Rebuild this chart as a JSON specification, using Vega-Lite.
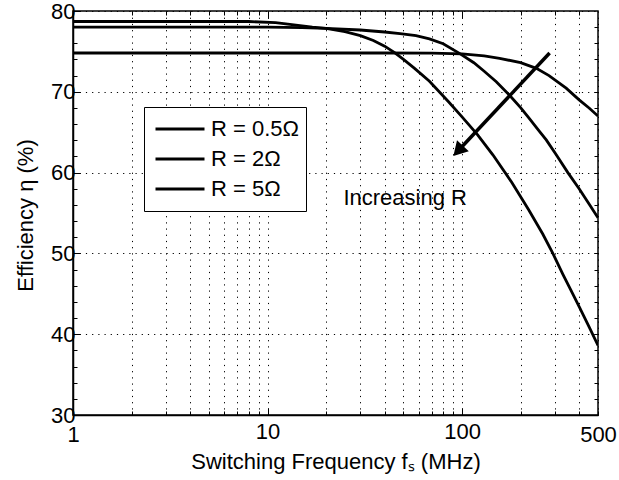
{
  "$schema": "https://vega.github.io/schema/vega-lite/v6.json",
  "autosize": {"type": "none"},
  "width": 525,
  "height": 404,
  "padding": {"left": 73, "top": 11, "right": 21, "bottom": 65},
  "background": "white",
  "config": {
    "font": "Liberation Sans",
    "view": {"stroke": "black", "strokeWidth": 1.5},
    "axis": {
      "domainColor": "black",
      "domainWidth": 1.5,
      "tickColor": "black",
      "tickWidth": 1,
      "labelColor": "black",
      "titleColor": "black",
      "labelFont": "Liberation Sans",
      "titleFont": "Liberation Sans",
      "labelFontSize": 22,
      "titleFontSize": 22,
      "titleFontWeight": "normal",
      "gridColor": "black",
      "gridDash": [1.2, 5],
      "gridWidth": 1,
      "labelOverlap": false,
      "labelFlush": false
    }
  },
  "resolve": {"axis": {"x": "independent", "y": "independent"}},
  "datasets": {
    "curves": [
      {"R": "R = 0.5Ω", "f": 1, "eta": 74.8},
      {"R": "R = 0.5Ω", "f": 10, "eta": 74.8},
      {"R": "R = 0.5Ω", "f": 40, "eta": 74.8},
      {"R": "R = 0.5Ω", "f": 70, "eta": 74.78},
      {"R": "R = 0.5Ω", "f": 100, "eta": 74.7},
      {"R": "R = 0.5Ω", "f": 130, "eta": 74.45},
      {"R": "R = 0.5Ω", "f": 156, "eta": 74.15},
      {"R": "R = 0.5Ω", "f": 200, "eta": 73.6},
      {"R": "R = 0.5Ω", "f": 241, "eta": 72.9},
      {"R": "R = 0.5Ω", "f": 280, "eta": 72.0},
      {"R": "R = 0.5Ω", "f": 343, "eta": 70.45},
      {"R": "R = 0.5Ω", "f": 400, "eta": 69.0},
      {"R": "R = 0.5Ω", "f": 450, "eta": 68.0},
      {"R": "R = 0.5Ω", "f": 500, "eta": 67.0},
      {"R": "R = 2Ω", "f": 1, "eta": 78.0},
      {"R": "R = 2Ω", "f": 10, "eta": 78.0},
      {"R": "R = 2Ω", "f": 15, "eta": 77.95},
      {"R": "R = 2Ω", "f": 20, "eta": 77.85},
      {"R": "R = 2Ω", "f": 30, "eta": 77.65},
      {"R": "R = 2Ω", "f": 40, "eta": 77.4},
      {"R": "R = 2Ω", "f": 48, "eta": 77.2},
      {"R": "R = 2Ω", "f": 58, "eta": 76.95},
      {"R": "R = 2Ω", "f": 68, "eta": 76.55},
      {"R": "R = 2Ω", "f": 80, "eta": 75.95},
      {"R": "R = 2Ω", "f": 97, "eta": 74.75},
      {"R": "R = 2Ω", "f": 115, "eta": 73.6},
      {"R": "R = 2Ω", "f": 130, "eta": 72.55},
      {"R": "R = 2Ω", "f": 150, "eta": 71.25},
      {"R": "R = 2Ω", "f": 175, "eta": 69.6},
      {"R": "R = 2Ω", "f": 200, "eta": 68.05},
      {"R": "R = 2Ω", "f": 220, "eta": 66.8},
      {"R": "R = 2Ω", "f": 250, "eta": 65.1},
      {"R": "R = 2Ω", "f": 271, "eta": 64.05},
      {"R": "R = 2Ω", "f": 305, "eta": 62.2},
      {"R": "R = 2Ω", "f": 350, "eta": 60.0},
      {"R": "R = 2Ω", "f": 400, "eta": 58.0},
      {"R": "R = 2Ω", "f": 450, "eta": 56.1},
      {"R": "R = 2Ω", "f": 500, "eta": 54.4},
      {"R": "R = 5Ω", "f": 1, "eta": 78.7},
      {"R": "R = 5Ω", "f": 8, "eta": 78.7},
      {"R": "R = 5Ω", "f": 11, "eta": 78.55},
      {"R": "R = 5Ω", "f": 14, "eta": 78.25},
      {"R": "R = 5Ω", "f": 17, "eta": 78.0},
      {"R": "R = 5Ω", "f": 20, "eta": 77.85},
      {"R": "R = 5Ω", "f": 25, "eta": 77.45},
      {"R": "R = 5Ω", "f": 30, "eta": 76.95},
      {"R": "R = 5Ω", "f": 35, "eta": 76.35},
      {"R": "R = 5Ω", "f": 40, "eta": 75.65},
      {"R": "R = 5Ω", "f": 45, "eta": 74.85},
      {"R": "R = 5Ω", "f": 50, "eta": 74.0},
      {"R": "R = 5Ω", "f": 57, "eta": 72.9},
      {"R": "R = 5Ω", "f": 68, "eta": 71.3},
      {"R": "R = 5Ω", "f": 85, "eta": 68.8},
      {"R": "R = 5Ω", "f": 100, "eta": 66.9},
      {"R": "R = 5Ω", "f": 120, "eta": 64.7},
      {"R": "R = 5Ω", "f": 144, "eta": 62.2},
      {"R": "R = 5Ω", "f": 180, "eta": 58.8},
      {"R": "R = 5Ω", "f": 220, "eta": 55.4},
      {"R": "R = 5Ω", "f": 260, "eta": 52.4},
      {"R": "R = 5Ω", "f": 293, "eta": 50.0},
      {"R": "R = 5Ω", "f": 330, "eta": 47.4},
      {"R": "R = 5Ω", "f": 360, "eta": 45.6},
      {"R": "R = 5Ω", "f": 400, "eta": 43.4},
      {"R": "R = 5Ω", "f": 450, "eta": 40.9},
      {"R": "R = 5Ω", "f": 500, "eta": 38.6}
    ],
    "arrow": [{"f1": 282, "e1": 74.8, "f2": 95.5, "e2": 62.7}],
    "label": [{"f": 51, "eta": 56.8, "text": "Increasing R"}]
  },
  "layer": [
    {
      "data": {"name": "curves"},
      "mark": {"type": "line", "strokeWidth": 2.8, "clip": true},
      "encoding": {
        "x": {
          "field": "f", "type": "quantitative",
          "scale": {"type": "log", "domain": [1, 500], "nice": false},
          "axis": {
            "orient": "bottom",
            "title": "Switching Frequency  fₛ  (MHz)",
            "values": [1, 2, 3, 4, 5, 6, 7, 8, 9, 10, 20, 30, 40, 50, 60, 70, 80, 90, 100, 200, 300, 400, 500],
            "format": "d",
            "labelExpr": "(datum.value == 1 || datum.value == 10 || datum.value == 100 || datum.value == 500) ? datum.label : ''",
            "grid": true,
            "tickSize": {"condition": {"test": "datum.value == 10 || datum.value == 100", "value": -7}, "value": -4},
            "labelPadding": 13,
            "titleY": 53,
            "titleBaseline": "alphabetic"
          }
        },
        "y": {
          "field": "eta", "type": "quantitative",
          "scale": {"domain": [30, 80], "nice": false, "zero": false},
          "axis": {
            "orient": "left",
            "title": null,
            "values": [32, 34, 36, 38, 42, 44, 46, 48, 52, 54, 56, 58, 62, 64, 66, 68, 72, 74, 76, 78],
            "labels": false,
            "domain": false,
            "grid": false,
            "tickSize": -4
          }
        },
        "color": {
          "field": "R", "type": "nominal",
          "scale": {"domain": ["R = 0.5Ω", "R = 2Ω", "R = 5Ω"], "range": ["black", "black", "black"]},
          "legend": {
            "orient": "none",
            "legendX": 71,
            "legendY": 96,
            "title": null,
            "symbolType": "stroke",
            "symbolSize": 2401,
            "symbolStrokeWidth": 3,
            "symbolOffset": 3,
            "labelFontSize": 22,
            "labelFont": "Liberation Sans",
            "labelColor": "black",
            "labelOffset": 5,
            "strokeColor": "black",
            "fillColor": "white",
            "padding": 7,
            "clipHeight": 30,
            "rowPadding": 0
          }
        }
      }
    },
    {
      "data": {"name": "arrow"},
      "mark": {"type": "rule", "strokeWidth": 3.5, "color": "black"},
      "encoding": {
        "x": {
          "field": "f1", "type": "quantitative",
          "axis": {
            "orient": "top",
            "title": null,
            "values": [2, 3, 4, 5, 6, 7, 8, 9, 10, 20, 30, 40, 50, 60, 70, 80, 90, 100, 200, 300, 400],
            "labels": false,
            "domain": false,
            "grid": false,
            "tickSize": {"condition": {"test": "datum.value == 10 || datum.value == 100", "value": -7}, "value": -4}
          }
        },
        "y": {
          "field": "e1", "type": "quantitative",
          "axis": {
            "orient": "left",
            "title": "Efficiency  η (%)",
            "values": [30, 40, 50, 60, 70, 80],
            "grid": true,
            "tickSize": -7,
            "labelPadding": 5,
            "titleX": -41,
            "titleY": 204,
            "titleBaseline": "alphabetic"
          }
        },
        "x2": {"field": "f2"},
        "y2": {"field": "e2"}
      }
    },
    {
      "data": {"name": "arrow"},
      "mark": {"type": "point", "shape": "triangle-up", "filled": true, "size": 260, "angle": 223, "color": "black", "opacity": 1},
      "encoding": {
        "x": {"field": "f2", "type": "quantitative", "axis": null},
        "y": {
          "field": "e2", "type": "quantitative",
          "axis": {
            "orient": "right",
            "title": null,
            "values": [32, 34, 36, 38, 40, 42, 44, 46, 48, 50, 52, 54, 56, 58, 60, 62, 64, 66, 68, 70, 72, 74, 76, 78],
            "labels": false,
            "domain": false,
            "grid": false,
            "tickSize": -4
          }
        }
      }
    },
    {
      "data": {"name": "label"},
      "mark": {"type": "text", "fontSize": 22, "font": "Liberation Sans", "color": "black", "align": "center", "baseline": "middle"},
      "encoding": {
        "x": {"field": "f", "type": "quantitative", "axis": null},
        "y": {"field": "eta", "type": "quantitative", "axis": null},
        "text": {"field": "text"}
      }
    }
  ]
}
